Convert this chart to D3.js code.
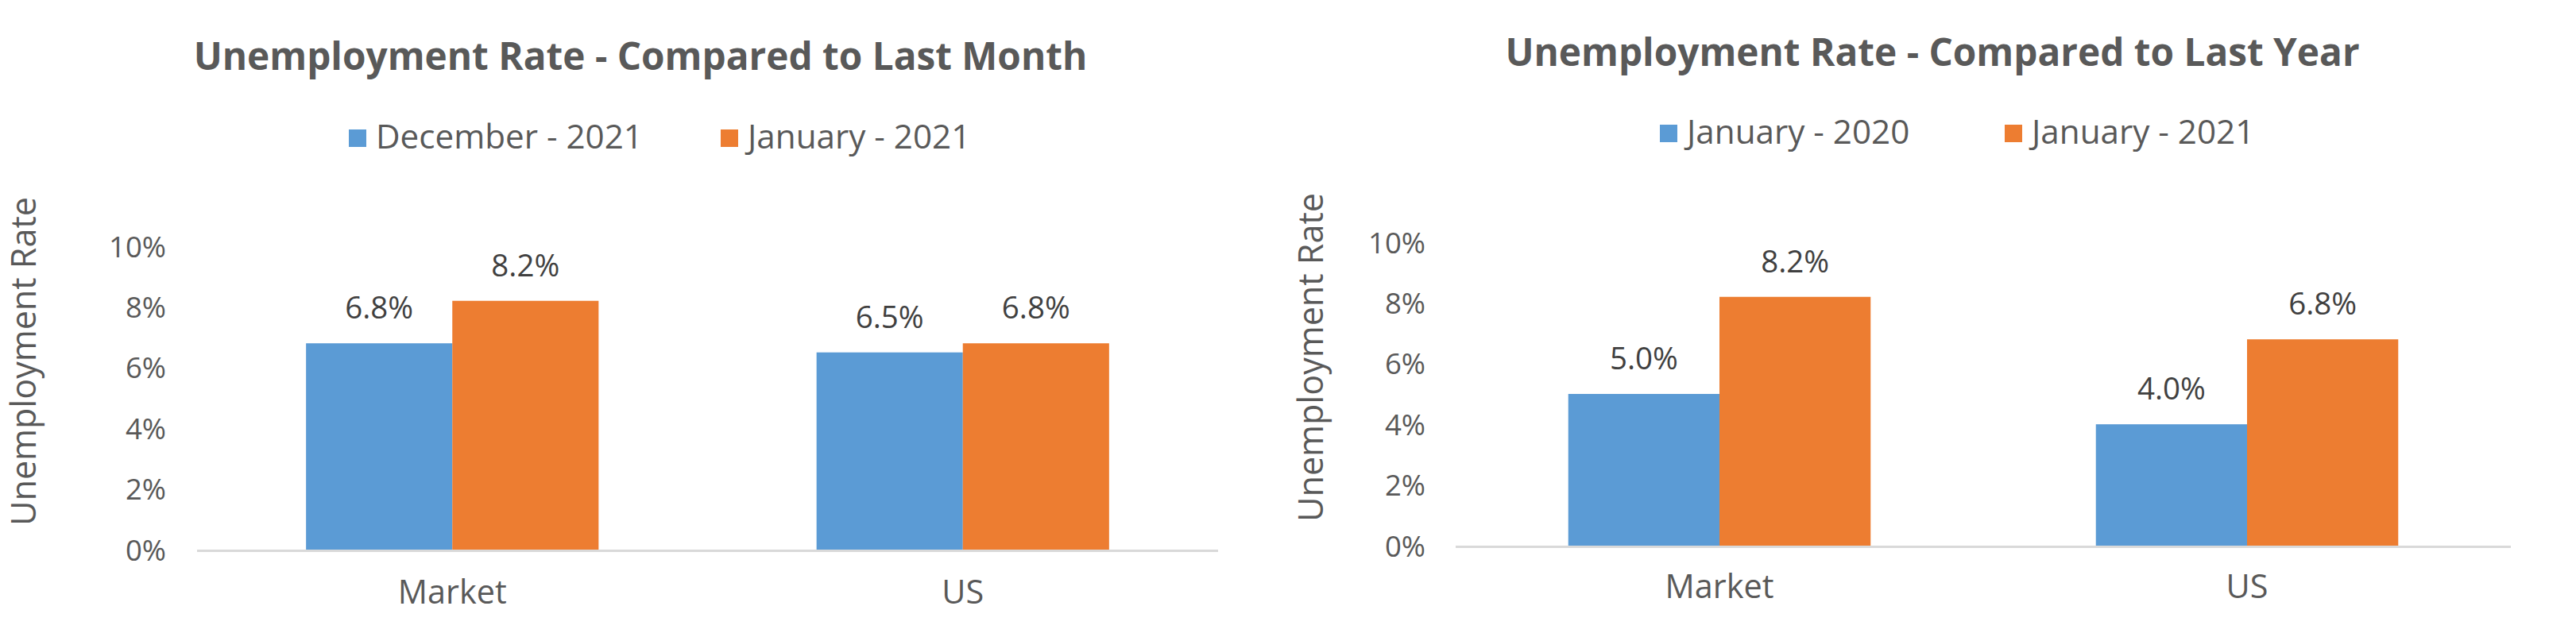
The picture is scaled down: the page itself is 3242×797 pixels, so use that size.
<!DOCTYPE html>
<html>
<head>
<meta charset="utf-8">
<script src="https://cdn.jsdelivr.net/npm/d3@7/dist/d3.min.js"></script>
<style>
  html, body { margin: 0; padding: 0; background: #ffffff; }
  svg { display: block; }
  text { font-family: "Open Sans", "DejaVu Sans", sans-serif; }
</style>
</head>
<body>
<svg id="chart" width="3242" height="797"></svg>
<script>
// ---------- data ----------
const categories = ["Market", "US"];
const yTicks = [0, 2, 4, 6, 8, 10];

const monthTitle = "Unemployment Rate - Compared to Last Month";
const monthSeries = ["December - 2021", "January - 2021"];
const monthValues = [[6.8, 6.5], [8.2, 6.8]];

const yearTitle = "Unemployment Rate - Compared to Last Year";
const yearSeries = ["January - 2020", "January - 2021"];
const yearValues = [[5.0, 4.0], [8.2, 6.8]];

const yTitle = "Unemployment Rate";
const colors = ["#5B9BD5", "#ED7D31"];

// ---------- helpers ----------
const svg = d3.select("#chart");

function fitSize(str, weight, target) {
  const t = svg.append("text").attr("font-size", 100).attr("font-weight", weight).text(str);
  const w = t.node().getComputedTextLength();
  t.remove();
  return 100 * target / w;
}

const sizes = {
  title: fitSize(monthTitle, "bold", 1125),
  legend: fitSize("December - 2021", "normal", 336),
  tick: fitSize("10%", "normal", 72),
  label: fitSize("6.8%", "normal", 86),
  cat: fitSize("Market", "normal", 137),
  ytitle: fitSize(yTitle, "normal", 414)
};

function drawChart(cfg) {
  const g = svg.append("g");
  const x = d3.scaleBand().domain(categories).range([cfg.x0, cfg.x1]).padding(0);
  const xs = d3.scaleBand().domain(d3.range(cfg.series.length)).range([0, x.bandwidth()])
    .paddingInner(0).paddingOuter(0.745);
  const y = d3.scaleLinear().domain([0, 10]).range([cfg.yBase, cfg.yTop]);

  // title
  g.append("text").attr("x", cfg.titleX).attr("y", cfg.titleY)
    .attr("text-anchor", "middle").attr("font-weight", "bold")
    .attr("font-size", sizes.title).attr("fill", "#595959").text(cfg.title);

  // legend
  const lg = g.append("g");
  cfg.series.forEach((s, i) => {
    lg.append("rect").attr("x", cfg.legendX[i]).attr("y", cfg.legendY)
      .attr("width", 22).attr("height", 22).attr("fill", colors[i]);
    lg.append("text").attr("x", cfg.legendX[i] + 34).attr("y", cfg.legendY + 24)
      .attr("font-size", sizes.legend).attr("fill", "#595959").text(s);
  });

  // y axis tick labels
  const yAxis = d3.axisLeft(y).tickValues(yTicks).tickSize(0).tickPadding(0)
    .tickFormat(d => d + "%");
  const ya = g.append("g").attr("transform", `translate(${cfg.tickX},0)`).call(yAxis);
  ya.select(".domain").remove();
  ya.selectAll("text").attr("font-size", sizes.tick).attr("fill", "#595959")
    .attr("font-family", "'Open Sans', 'DejaVu Sans', sans-serif").attr("dy", "0.36em");

  // y title
  g.append("text")
    .attr("transform", `translate(${cfg.yTitleX},${cfg.yTitleY}) rotate(-90)`)
    .attr("text-anchor", "middle").attr("font-size", sizes.ytitle)
    .attr("fill", "#595959").text(yTitle);

  // bars
  const groups = g.selectAll(".grp").data(categories).join("g")
    .attr("transform", d => `translate(${x(d)},0)`);
  groups.each(function (cat, ci) {
    const gg = d3.select(this);
    cfg.series.forEach((s, si) => {
      const v = cfg.values[si][ci];
      gg.append("rect").attr("x", xs(si)).attr("y", y(v))
        .attr("width", xs.bandwidth()).attr("height", y(0) - y(v))
        .attr("fill", colors[si]);
      gg.append("text").attr("x", xs(si) + xs.bandwidth() / 2).attr("y", y(v) - 31)
        .attr("text-anchor", "middle").attr("font-size", sizes.label)
        .attr("fill", "#404040").text(d3.format(".1f")(v) + "%");
    });
  });

  // x axis line
  g.append("line").attr("x1", cfg.x0).attr("x2", cfg.x1)
    .attr("y1", cfg.yBase + 1.5).attr("y2", cfg.yBase + 1.5)
    .attr("stroke", "#D9D9D9").attr("stroke-width", 3);

  // category labels
  const xAxis = d3.axisBottom(x).tickSize(0).tickPadding(0);
  const xa = g.append("g").attr("transform", `translate(0,${cfg.catY})`).call(xAxis);
  xa.select(".domain").remove();
  xa.selectAll("text").attr("font-size", sizes.cat).attr("fill", "#595959")
    .attr("font-family", "'Open Sans', 'DejaVu Sans', sans-serif").attr("dy", 0)
    .attr("y", 0);
}

drawChart({
  title: monthTitle, series: monthSeries, values: monthValues,
  x0: 248, x1: 1533, yBase: 692, yTop: 310,
  titleX: 806, titleY: 88,
  legendX: [439, 907], legendY: 163,
  tickX: 209, yTitleX: 45, yTitleY: 455, catY: 760
});

drawChart({
  title: yearTitle, series: yearSeries, values: yearValues,
  x0: 1832, x1: 3160, yBase: 687, yTop: 305,
  titleX: 2432, titleY: 83,
  legendX: [2089, 2523], legendY: 157,
  tickX: 1794, yTitleX: 1665, yTitleY: 450, catY: 753
});
</script>
</body>
</html>
